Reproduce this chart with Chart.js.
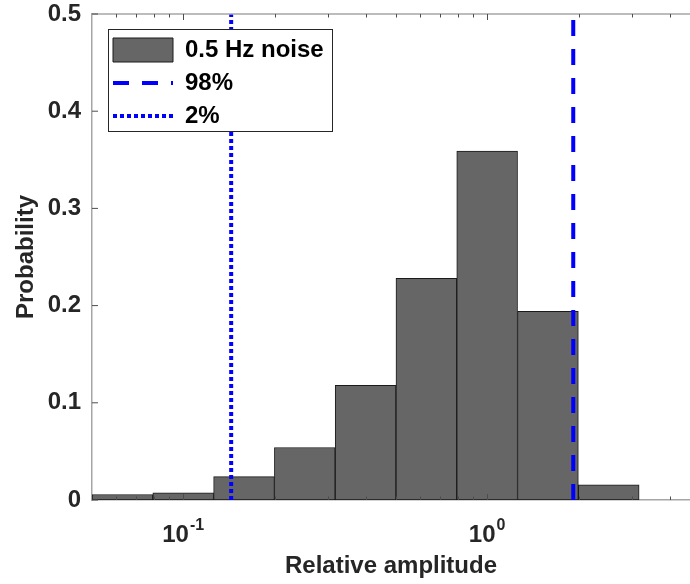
<!DOCTYPE html>
<html>
<head>
<meta charset="utf-8">
<script src="https://cdn.jsdelivr.net/npm/chart.js@4/dist/chart.umd.min.js"></script>
<style>
html, body { margin: 0; padding: 0; background: #fff; }
#wrap { width: 690px; height: 584px; position: relative; }
</style>
</head>
<body>
<div id="wrap"><canvas id="hist"></canvas></div>
<script>
// histogram of relative amplitude, bins 0.2 decade wide (geometric centres)
var binCenters = [0.0631, 0.1, 0.1585, 0.2512, 0.3981, 0.631, 1.0, 1.585, 2.512];
var probability = [0.0057, 0.0074, 0.024, 0.054, 0.118, 0.228, 0.359, 0.194, 0.0155];
// percentile markers
var pct98 = 1.92;
var pct2 = 0.1438;
// axis ticks
var yTicks = [0, 0.1, 0.2, 0.3, 0.4, 0.5];
var xTickValues = [0.1, 1];
var xTickExp = ['-1', '0'];
var seriesNames = ['0.5 Hz noise', '98%', '2%'];

var FONT = "'Liberation Sans', Arial, Helvetica, sans-serif";
var AXIS = '#a6a6a6';
var TEXT = '#262626';

var histData = binCenters.map(function (c, i) { return {x: c, y: probability[i]}; });
function vline(v) { return [{x: v, y: 0}, {x: v, y: 0.5}]; }

// matlab-ish axes decorations: inner ticks, top border, 10^n labels, boxed legend
var axesDeco = {
  id: 'axesDeco',
  afterLayout: function (chart) {
    var a = chart.chartArea;
    chart.legend.left = a.left + 12;
    chart.legend.top = a.top + 15;
  },
  afterDatasetsDraw: function (chart) {
    var ctx = chart.ctx, a = chart.chartArea;
    var xs = chart.scales.x, ys = chart.scales.y;
    ctx.save();
    // top border
    ctx.strokeStyle = AXIS;
    ctx.lineWidth = 1.5;
    ctx.beginPath();
    ctx.moveTo(a.left, a.top);
    ctx.lineTo(a.right, a.top);
    ctx.stroke();
    // ticks pointing inwards
    ctx.strokeStyle = '#4d4d4d';
    ctx.lineWidth = 1;
    ctx.beginPath();
    yTicks.forEach(function (v) {
      var py = ys.getPixelForValue(v);
      ctx.moveTo(a.left, py);
      ctx.lineTo(a.left + 6, py);
    });
    [-2, -1, 0].forEach(function (e) {
      for (var m = 1; m < 10; m++) {
        var v = m * Math.pow(10, e);
        if (v < xs.min || v > xs.max) continue;
        var px = Math.round(xs.getPixelForValue(v)) + 0.5;
        var len = m === 1 ? 6 : 3.5;
        ctx.moveTo(px, a.bottom);
        ctx.lineTo(px, a.bottom - len);
        ctx.moveTo(px, a.top);
        ctx.lineTo(px, a.top + len);
      }
    });
    ctx.stroke();
    // legend box, drawn over the marker lines
    var lg = chart.legend;
    ctx.fillStyle = '#fff';
    ctx.fillRect(lg.left + 4, lg.top, 224, 102);
    ctx.strokeStyle = '#262626';
    ctx.lineWidth = 1;
    ctx.strokeRect(lg.left + 4.5, lg.top + 0.5, 224, 102);
    ctx.restore();
    lg.draw();
  },
  afterDraw: function (chart) {
    var ctx = chart.ctx, a = chart.chartArea, xs = chart.scales.x;
    ctx.save();
    ctx.fillStyle = TEXT;
    ctx.textAlign = 'left';
    ctx.textBaseline = 'alphabetic';
    xTickValues.forEach(function (v, i) {
      var px = xs.getPixelForValue(v);
      ctx.font = 'bold 24px ' + FONT;
      var wb = ctx.measureText('10').width;
      ctx.font = 'bold 16px ' + FONT;
      var we = ctx.measureText(xTickExp[i]).width;
      var x0 = px - (wb + we + 1) / 2;
      ctx.font = 'bold 24px ' + FONT;
      ctx.fillText('10', x0, a.bottom + 42);
      ctx.font = 'bold 16px ' + FONT;
      ctx.fillText(xTickExp[i], x0 + wb + 1, a.bottom + 30);
    });
    ctx.restore();
  }
};

new Chart('hist', {
  type: 'bar',
  data: {
    datasets: [{
      label: seriesNames[0],
      data: histData,
      backgroundColor: '#666666',
      borderColor: '#1a1a1a',
      borderWidth: 1,
      borderSkipped: false,
      barThickness: 'flex',
      barPercentage: 1,
      categoryPercentage: 1,
      order: 2
    }, {
      type: 'line',
      label: seriesNames[1],
      data: vline(pct98),
      borderColor: '#0000ff',
      backgroundColor: '#0000ff',
      borderWidth: 4,
      borderDash: [16, 13],
      pointRadius: 0,
      fill: false,
      order: 1
    }, {
      type: 'line',
      label: seriesNames[2],
      data: vline(pct2),
      borderColor: '#0000ff',
      backgroundColor: '#0000ff',
      borderWidth: 4,
      borderDash: [4, 3],
      pointRadius: 0,
      fill: false,
      order: 0
    }]
  },
  options: {
    responsive: true,
    maintainAspectRatio: false,
    animation: false,
    layout: { padding: { top: 14, right: 0, bottom: 0, left: 0 } },
    scales: {
      x: {
        type: 'logarithmic',
        min: 0.0501,
        max: 4.65,
        offset: false,
        grid: { display: false, drawTicks: false },
        border: { display: true, color: AXIS, width: 1.5 },
        ticks: { display: false },
        title: {
          display: true,
          text: 'Relative amplitude',
          color: TEXT,
          font: { family: FONT, size: 24, weight: 'bold' },
          padding: { top: 0, bottom: 3 }
        },
        afterFit: function (s) { s.height = 84; s.paddingLeft = 0; s.paddingRight = 0; }
      },
      y: {
        min: 0,
        max: 0.5,
        grid: { display: false, drawTicks: false },
        border: { display: true, color: AXIS, width: 1.5 },
        ticks: {
          stepSize: 0.1,
          padding: 11,
          color: TEXT,
          font: { family: FONT, size: 24, weight: 'bold', lineHeight: 1 }
        },
        title: {
          display: true,
          text: 'Probability',
          color: TEXT,
          font: { family: FONT, size: 24, weight: 'bold' },
          padding: { top: 12, bottom: 0 }
        },
        afterFit: function (s) { s.width = 92; s.paddingTop = 0; s.paddingBottom = 0; }
      }
    },
    plugins: {
      tooltip: { enabled: false },
      legend: {
        position: 'chartArea',
        align: 'start',
        labels: {
          usePointStyle: true,
          pointStyleWidth: 60,
          boxHeight: 24,
          padding: 9,
          color: '#000',
          font: { family: FONT, size: 24, weight: 'bold' },
          sort: function (a, b) { return a.datasetIndex - b.datasetIndex; },
          generateLabels: function (chart) {
            var items = Chart.defaults.plugins.legend.labels.generateLabels(chart);
            items.forEach(function (it) {
              var ds = chart.data.datasets[it.datasetIndex];
              if (it.datasetIndex === 0) {
                it.pointStyle = 'rect';
                it.fillStyle = ds.backgroundColor;
                it.strokeStyle = ds.borderColor;
                it.lineWidth = 1;
              } else {
                it.pointStyle = 'line';
                it.strokeStyle = ds.borderColor;
                it.lineWidth = ds.borderWidth;
                it.lineDash = ds.borderDash;
              }
            });
            return items;
          }
        }
      }
    }
  },
  plugins: [axesDeco]
});
</script>
</body>
</html>
